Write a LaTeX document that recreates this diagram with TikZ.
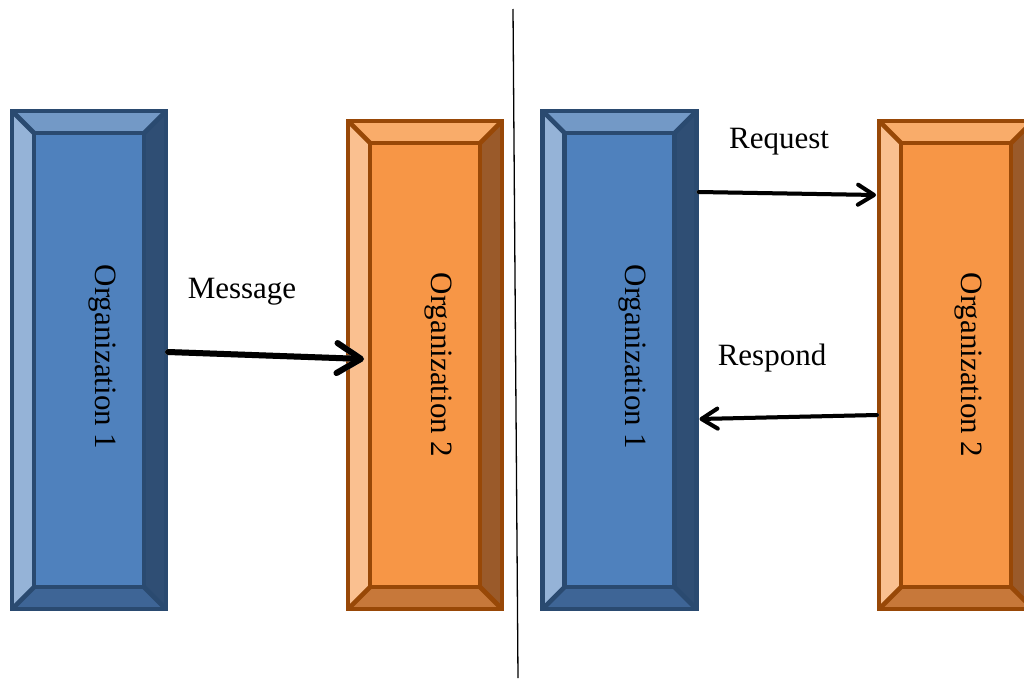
\documentclass[tikz,border=0pt]{standalone}
\usepackage{fontspec}
\setmainfont{Liberation Serif}
\usetikzlibrary{calc,arrows.meta}

% blue bevel palette
\definecolor{bFace}{HTML}{4F81BD}
\definecolor{bLine}{HTML}{2A4A70}
\definecolor{bTop}{HTML}{7399C6}
\definecolor{bLeft}{HTML}{95B3D7}
\definecolor{bRight}{HTML}{2F4E74}
\definecolor{bBottom}{HTML}{3E6596}
% orange bevel palette
\definecolor{oFace}{HTML}{F79646}
\definecolor{oLine}{HTML}{984807}
\definecolor{oTop}{HTML}{F9AC6A}
\definecolor{oLeft}{HTML}{FAC090}
\definecolor{oRight}{HTML}{9A5A2A}
\definecolor{oBottom}{HTML}{C7783A}
\definecolor{arrowShade}{HTML}{C8C8C8}

% bevel depth in picture units (y grows downwards)
\def\bevw{22}

% bevel frame around a rectangular node: name, top, left, right, bottom, line colour
\newcommand\bevelframe[6]{%
  \coordinate (#1-inw) at ($(#1.north west)+(\bevw,\bevw)$);
  \coordinate (#1-ine) at ($(#1.north east)+(-\bevw,\bevw)$);
  \coordinate (#1-isw) at ($(#1.south west)+(\bevw,-\bevw)$);
  \coordinate (#1-ise) at ($(#1.south east)+(-\bevw,-\bevw)$);
  \fill[#2] (#1.north west) -- (#1.north east) -- (#1-ine) -- (#1-inw) -- cycle;
  \fill[#3] (#1.north west) -- (#1-inw) -- (#1-isw) -- (#1.south west) -- cycle;
  \fill[#4] (#1.north east) -- (#1-ine) -- (#1-ise) -- (#1.south east) -- cycle;
  \fill[#5] (#1.south west) -- (#1-isw) -- (#1-ise) -- (#1.south east) -- cycle;
  \draw[#6,bevelline] (#1-inw) rectangle (#1-ise);
  \draw[#6,bevelline] (#1.north west) -- (#1-inw) (#1.north east) -- (#1-ine)
    (#1.south west) -- (#1-isw) (#1.south east) -- (#1-ise);
  \draw[#6,bevelline] (#1.north west) rectangle (#1.south east);
}

\tikzset{
  bevelline/.style={line width=4.6pt,line join=miter,line cap=butt},
  orgbox/.style={rectangle,inner sep=0pt,outer sep=0pt,line width=4.6pt,
    minimum width=154pt},
  bluebox/.style={orgbox,fill=bFace,draw=bLine,minimum height=498pt},
  orangebox/.style={orgbox,fill=oFace,draw=oLine,minimum height=488pt},
  orgtext/.style={rotate=-90,anchor=base,inner sep=0pt,
    font=\fontsize{31}{36}\selectfont},
  lbl/.style={inner sep=0pt,font=\fontsize{31}{36}\selectfont},
  bigarrow/.style={line width=6pt,line cap=round,
    -{Straight Barb[length=24pt,width=30pt,round]}},
  smallarrow/.style={line width=4pt,line cap=round,
    -{Straight Barb[length=16pt,width=20pt,round]}},
  shade/.style={draw=arrowShade,xshift=1.5pt,yshift=-3pt},
}

\begin{document}
\begin{tikzpicture}[x=1pt,y=-1pt]
  \useasboundingbox (0,0) rectangle (1024,680);
  \clip (0,0) rectangle (1024,680);

  % divider between the two scenarios
  \coordinate (divTop) at (513,9);
  \coordinate (divBot) at (518,678);
  \draw[line width=1.3pt] (divTop) -- (divBot);

  % one-way exchange
  \node[bluebox] (a1) at (89,360) {};
  \bevelframe{a1}{bTop}{bLeft}{bRight}{bBottom}{bLine}
  \node[orangebox] (a2) at (425,365) {};
  \bevelframe{a2}{oTop}{oLeft}{oRight}{oBottom}{oLine}
  \node[orgtext] (a1t) at ($(a1.center)+(6,-3)$) {Organization 1};
  \node[orgtext] (a2t) at ($(a2.center)+(6,0)$) {Organization 2};

  % request / response exchange
  \node[bluebox] (b1) at (619.5,360) {};
  \bevelframe{b1}{bTop}{bLeft}{bRight}{bBottom}{bLine}
  \node[orangebox] (b2) at (956,365) {};
  \bevelframe{b2}{oTop}{oLeft}{oRight}{oBottom}{oLine}
  \node[orgtext] (b1t) at ($(b1.center)+(6,-3)$) {Organization 1};
  \node[orgtext] (b2t) at ($(b2.center)+(5,0)$) {Organization 2};

  % connectors with soft drop shade
  \draw[bigarrow,shade] ($(a1.east)+(2,-8)$) -- ($(a2.west)+(16,-6)$);
  \draw[bigarrow] ($(a1.east)+(2,-8)$) -- ($(a2.west)+(16,-6)$);
  \draw[smallarrow,shade] ($(b1.east)+(2,-168)$) -- ($(b2.west)+(-3,-170)$);
  \draw[smallarrow] ($(b1.east)+(2,-168)$) -- ($(b2.west)+(-3,-170)$);
  \draw[smallarrow,shade] ($(b2.west)+(-2,50)$) -- ($(b1.east)+(3,59)$);
  \draw[smallarrow] ($(b2.west)+(-2,50)$) -- ($(b1.east)+(3,59)$);

  % labels
  \node[lbl] (msg) at (242,292) {Message};
  \node[lbl] (req) at (779,142) {Request};
  \node[lbl] (resp) at (772,358) {Respond};
\end{tikzpicture}
\end{document}
